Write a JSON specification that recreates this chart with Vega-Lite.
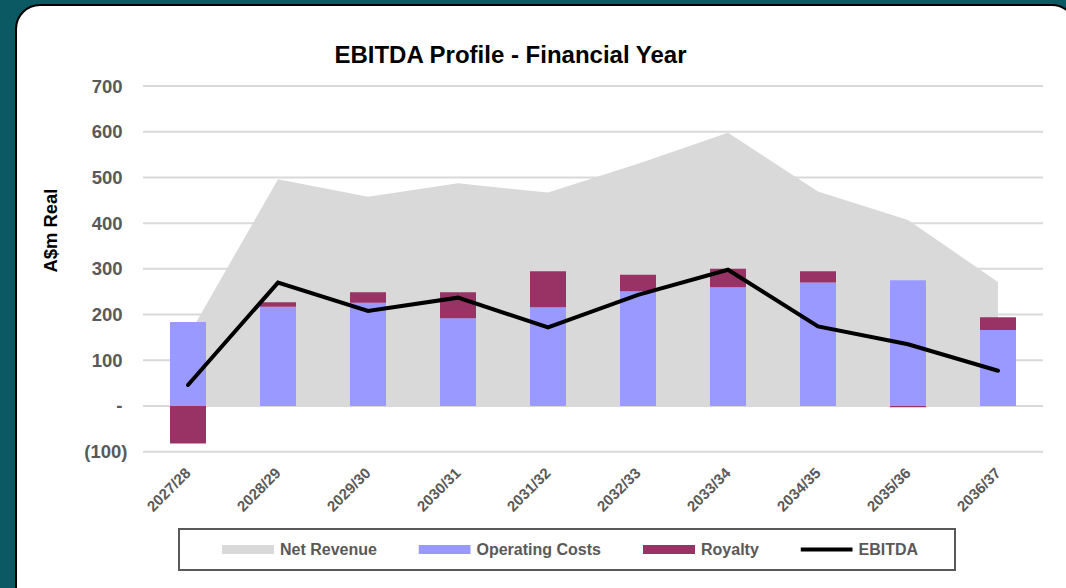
{
  "$schema": "https://vega.github.io/schema/vega-lite/v6.json",
  "width": 1060,
  "height": 613,
  "autosize": {"type": "none"},
  "padding": {"left": 16, "top": 5, "right": -10, "bottom": -30},
  "background": "#0b5963",
  "config": {
    "view": {"fill": "#ffffff", "stroke": "#000000", "strokeWidth": 2, "cornerRadius": 24},
    "font": "Liberation Sans"
  },
  "title": {
    "text": "EBITDA Profile - Financial Year",
    "font": "Liberation Sans",
    "fontSize": 24,
    "fontWeight": "bold",
    "color": "#000000",
    "anchor": "middle",
    "frame": "group",
    "dx": -35.5,
    "dy": 82,
    "offset": 0,
    "baseline": "alphabetic"
  },
  "datasets": {
    "fin": [
      {"year": "2027/28", "series": "Net Revenue", "value": 152},
      {"year": "2028/29", "series": "Net Revenue", "value": 496},
      {"year": "2029/30", "series": "Net Revenue", "value": 458},
      {"year": "2030/31", "series": "Net Revenue", "value": 487},
      {"year": "2031/32", "series": "Net Revenue", "value": 467},
      {"year": "2032/33", "series": "Net Revenue", "value": 530},
      {"year": "2033/34", "series": "Net Revenue", "value": 598},
      {"year": "2034/35", "series": "Net Revenue", "value": 469},
      {"year": "2035/36", "series": "Net Revenue", "value": 407},
      {"year": "2036/37", "series": "Net Revenue", "value": 271},
      {"year": "2027/28", "series": "Operating Costs", "value": 184},
      {"year": "2028/29", "series": "Operating Costs", "value": 217},
      {"year": "2029/30", "series": "Operating Costs", "value": 226},
      {"year": "2030/31", "series": "Operating Costs", "value": 192},
      {"year": "2031/32", "series": "Operating Costs", "value": 216},
      {"year": "2032/33", "series": "Operating Costs", "value": 251},
      {"year": "2033/34", "series": "Operating Costs", "value": 260},
      {"year": "2034/35", "series": "Operating Costs", "value": 270},
      {"year": "2035/36", "series": "Operating Costs", "value": 275},
      {"year": "2036/37", "series": "Operating Costs", "value": 166},
      {"year": "2027/28", "series": "Royalty", "value": -82},
      {"year": "2028/29", "series": "Royalty", "value": 10},
      {"year": "2029/30", "series": "Royalty", "value": 23},
      {"year": "2030/31", "series": "Royalty", "value": 57},
      {"year": "2031/32", "series": "Royalty", "value": 79},
      {"year": "2032/33", "series": "Royalty", "value": 36},
      {"year": "2033/34", "series": "Royalty", "value": 40},
      {"year": "2034/35", "series": "Royalty", "value": 25},
      {"year": "2035/36", "series": "Royalty", "value": -3},
      {"year": "2036/37", "series": "Royalty", "value": 28},
      {"year": "2027/28", "series": "EBITDA", "value": 46},
      {"year": "2028/29", "series": "EBITDA", "value": 270},
      {"year": "2029/30", "series": "EBITDA", "value": 208},
      {"year": "2030/31", "series": "EBITDA", "value": 237},
      {"year": "2031/32", "series": "EBITDA", "value": 172},
      {"year": "2032/33", "series": "EBITDA", "value": 243},
      {"year": "2033/34", "series": "EBITDA", "value": 298},
      {"year": "2034/35", "series": "EBITDA", "value": 174},
      {"year": "2035/36", "series": "EBITDA", "value": 135},
      {"year": "2036/37", "series": "EBITDA", "value": 77}
    ],
    "grid": [
      {"v": -100}, {"v": 0}, {"v": 100}, {"v": 200}, {"v": 300},
      {"v": 400}, {"v": 500}, {"v": 600}, {"v": 700}
    ]
  },
  "layer": [
    {
      "data": {"name": "grid"},
      "mark": {"type": "rule", "stroke": "#d9d9d9", "strokeWidth": 2},
      "encoding": {
        "y": {
          "field": "v",
          "type": "quantitative",
          "scale": {"domain": [-463.8, 877.2], "nice": false, "zero": false},
          "axis": {
            "title": "A$m Real",
            "zindex": 1,
            "values": [-100, 0, 100, 200, 300, 400, 500, 600, 700],
            "labelExpr": "datum.value < 0 ? '(' + format(-datum.value, 'd') + ')' : (datum.value === 0 ? '-' : format(datum.value, 'd'))",
            "labelPadding": {"condition": {"test": "datum.value < 0", "value": -111}, "value": -106},
            "ticks": false,
            "domain": false,
            "grid": false,
            "labelFont": "Liberation Sans",
            "labelFontSize": 18.5,
            "labelFontWeight": "bold",
            "labelColor": "#595959",
            "labelAlign": "right",
            "labelBaseline": "middle",
            "titleFont": "Liberation Sans",
            "titleFontSize": 18.4,
            "titleFontWeight": "bold",
            "titleColor": "#000000",
            "titleAngle": 270,
            "titleAlign": "center",
            "titleBaseline": "middle",
            "titleX": 34,
            "titleY": 225
          }
        },
        "x": {"datum": "2027/28", "type": "nominal", "bandPosition": -0.75},
        "x2": {"datum": "2036/37", "bandPosition": 1.75}
      }
    },
    {
      "data": {"name": "fin"},
      "transform": [{"filter": "datum.series === 'Net Revenue'"}],
      "mark": {"type": "area"},
      "encoding": {
        "x": {
          "field": "year",
          "type": "nominal",
          "scale": {"type": "band", "range": [127, 1027], "paddingInner": 0.6, "paddingOuter": 0.3},
          "axis": {
            "title": null,
            "zindex": 1,
            "labelAngle": -45,
            "labelAlign": "right",
            "labelBaseline": "middle",
            "labelFont": "Liberation Sans",
            "labelFontSize": 15,
            "labelFontWeight": "bold",
            "labelColor": "#595959",
            "ticks": false,
            "domain": false,
            "grid": false,
            "labelPadding": -148,
            "labelOverlap": false,
            "labelBound": false,
            "labelLimit": 200
          }
        },
        "y": {"field": "value", "type": "quantitative", "stack": null},
        "color": {
          "field": "series",
          "type": "nominal",
          "scale": {"domain": ["Net Revenue", "Operating Costs", "Royalty", "EBITDA"], "range": ["#d9d9d9", "#9999ff", "#993366", "#000000"]},
          "legend": {
            "title": "\u00a0",
            "orient": "none",
            "legendX": 163,
            "legendY": 524,
            "direction": "horizontal",
            "padding": 12.5,
            "strokeColor": "#595959",
            "titleOrient": "left",
            "titleFontSize": 16,
            "titlePadding": 30.5,
            "labelFont": "Liberation Sans",
            "labelFontSize": 16,
            "labelFontWeight": "bold",
            "labelColor": "#595959",
            "labelOffset": 6,
            "labelLimit": 300,
            "columnPadding": 41.5,
            "clipHeight": 16,
            "symbolSize": 2704,
            "symbolType": "M-1,-0.173H1V0.173H-1Z",
            "symbolStrokeWidth": 0,
            "labelExpr": "datum.label === 'EBITDA' ? 'EBITDA\u2800\u2800' : datum.label",
            "encode": {
              "legend": {"update": {"strokeWidth": {"value": 2}}},
              "symbols": {
                "update": {
                  "shape": {"signal": "datum.value === 'EBITDA' ? 'M-1,-0.077H1V0.077H-1Z' : 'M-1,-0.173H1V0.173H-1Z'"},
                  "fill": {"signal": "scale('color', datum.value)"},
                  "stroke": {"value": "transparent"},
                  "strokeWidth": {"value": 0},
                  "opacity": {"value": 1}
                }
              }
            }
          }
        }
      }
    },
    {
      "data": {"name": "fin"},
      "transform": [{"filter": "datum.series === 'Operating Costs' || datum.series === 'Royalty'"}],
      "mark": {"type": "bar"},
      "encoding": {
        "x": {"field": "year", "type": "nominal"},
        "y": {"field": "value", "type": "quantitative", "stack": "zero"},
        "color": {"field": "series", "type": "nominal"},
        "order": {"field": "series", "sort": "ascending"}
      }
    },
    {
      "data": {"name": "fin"},
      "transform": [{"filter": "datum.series === 'EBITDA'"}],
      "mark": {"type": "line", "strokeWidth": 4, "strokeCap": "round", "strokeJoin": "miter"},
      "encoding": {
        "x": {"field": "year", "type": "nominal"},
        "y": {"field": "value", "type": "quantitative"},
        "color": {"field": "series", "type": "nominal"}
      }
    }
  ]
}
